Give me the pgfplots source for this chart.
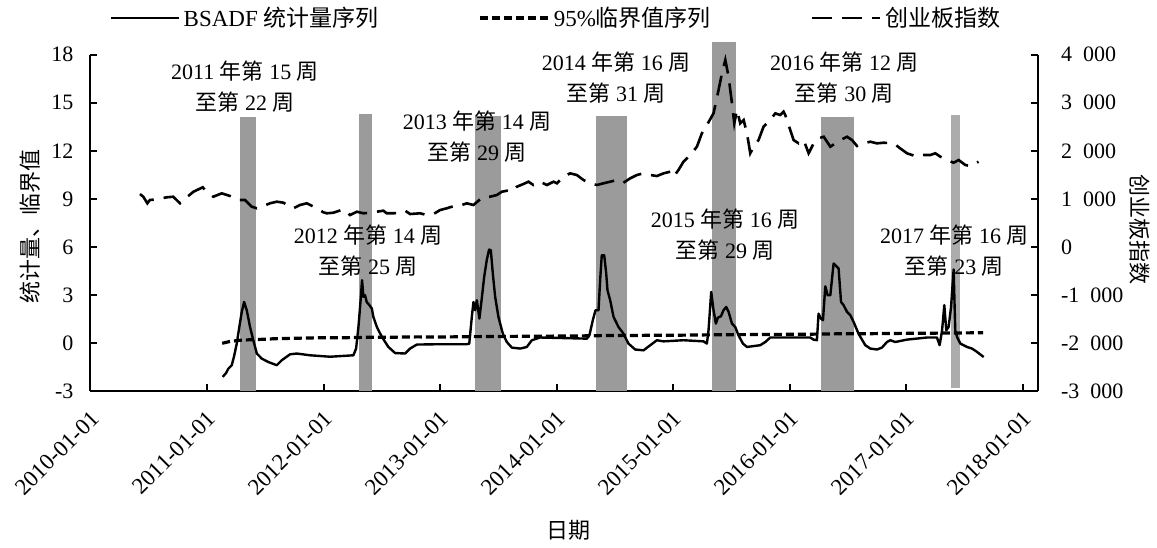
\documentclass[border=0pt]{standalone}
\usepackage{fontspec}
\setmainfont{Liberation Serif}
\newfontfamily\cjk{Noto Sans CJK SC}
\usepackage{pgfplots}
\pgfplotsset{compat=1.18}
\newcommand\zh[1]{{\cjk #1}}
\definecolor{barfill}{RGB}{155,155,155}
\definecolor{barlight}{RGB}{172,172,172}

% time axis: years since 2010-01-01
\pgfplotstableread{
t      bsadf
1.134  -2.12
1.163  -1.88
1.183  -1.60
1.212  -1.39
1.232  -0.83
1.255  -0.04
1.277   1.00
1.298   1.94
1.318   2.56
1.341   2.04
1.369   1.00
1.397   0.17
1.427  -0.66
1.470  -0.98
1.526  -1.19
1.598  -1.39
1.641  -1.08
1.712  -0.71
1.770  -0.66
1.884  -0.77
2.056  -0.86
2.256  -0.77
2.279  -0.35
2.299   1.00
2.320   2.88
2.330   3.92
2.342   2.88
2.356   2.98
2.370   2.56
2.393   2.36
2.414   2.15
2.427   1.63
2.457   1.00
2.500   0.38
2.556  -0.25
2.614  -0.63
2.700  -0.66
2.742  -0.35
2.800  -0.10
2.972  -0.08
3.229  -0.08
3.250  -0.04
3.272   1.63
3.286   2.56
3.300   2.04
3.315   2.67
3.337   1.52
3.359   2.88
3.378   4.13
3.400   5.17
3.420   5.83
3.435   5.79
3.452   4.34
3.472   2.88
3.500   1.63
3.538   0.58
3.572   0.06
3.615  -0.29
3.687  -0.35
3.744  -0.25
3.787   0.17
3.858   0.34
4.259   0.27
4.281   0.48
4.310   1.42
4.333   2.04
4.359   2.04
4.373   3.92
4.387   5.48
4.408   5.48
4.425   4.34
4.436   3.29
4.459   2.67
4.488   1.63
4.530   1.00
4.573   0.58
4.616  -0.04
4.674  -0.41
4.745  -0.46
4.803  -0.14
4.860   0.17
4.917   0.10
5.088   0.17
5.260   0.10
5.289  -0.04
5.303   0.79
5.326   3.19
5.346   2.04
5.366   1.21
5.383   1.58
5.410   1.67
5.431   2.04
5.455   2.25
5.475   1.94
5.504   1.21
5.532   1.00
5.560   0.48
5.598  -0.04
5.633  -0.25
5.747  -0.14
5.790   0.06
5.833   0.34
6.176   0.34
6.204   0.21
6.233   0.17
6.247   1.83
6.268   1.52
6.285   1.42
6.305   3.54
6.325   2.98
6.348   2.98
6.376   4.96
6.405   4.75
6.419   4.65
6.440   2.56
6.462   2.36
6.491   1.94
6.520   1.73
6.548   1.31
6.590   0.58
6.648  -0.14
6.691  -0.35
6.748  -0.41
6.791  -0.29
6.834   0.06
6.863   0.17
6.906   0.06
7.006   0.21
7.178   0.34
7.263   0.34
7.286  -0.14
7.307   0.79
7.326   2.36
7.343   0.79
7.363   1.00
7.384   2.25
7.406   4.59
7.420   0.79
7.435   0.38
7.464  -0.04
7.521  -0.25
7.564  -0.35
7.607  -0.56
7.664  -0.88
}\bsadf

\pgfplotstableread{
t     crit
1.13  -0.02
1.20   0.10
1.30   0.18
1.45   0.22
1.60   0.27
1.80   0.30
2.00   0.33
2.20   0.33
2.40   0.36
2.60   0.36
2.80   0.38
3.00   0.37
3.20   0.39
3.40   0.40
3.60   0.41
3.80   0.42
4.00   0.43
4.20   0.44
4.40   0.46
4.60   0.46
4.80   0.48
5.00   0.48
5.20   0.50
5.40   0.51
5.60   0.52
5.80   0.53
6.00   0.54
6.20   0.55
6.40   0.57
6.60   0.57
6.80   0.59
7.00   0.60
7.20   0.61
7.40   0.62
7.66   0.64
}\crit

\pgfplotstableread{
t      idx
0.425  1100
0.453  1044
0.488   907
0.510   976
0.568   990
0.654  1032
0.710  1044
0.768   907
0.826  1032
0.883  1148
0.963  1240
0.997  1148
1.054  1044
1.126  1115
1.197  1059
1.269   976
1.326   976
1.384   836
1.427   803
1.483   851
1.541   907
1.598   941
1.655   920
1.741   803
1.797   872
1.856   907
1.942   803
1.998   720
2.027   699
2.084   711
2.170   782
2.227   663
2.285   732
2.342   699
2.400   711
2.456   732
2.513   753
2.542   699
2.600   699
2.657   711
2.700   753
2.742   684
2.828   699
2.886   663
2.943   684
3.000   767
3.057   803
3.100   836
3.143   872
3.186   872
3.229   907
3.286   872
3.343   990
3.386  1044
3.429  1044
3.487  1080
3.530  1148
3.572  1169
3.615  1148
3.658  1252
3.715  1309
3.758  1357
3.800  1288
3.857  1357
3.916  1288
3.973  1357
4.002  1323
4.058  1461
4.116  1531
4.173  1496
4.230  1392
4.288  1323
4.345  1288
4.402  1323
4.459  1357
4.517  1392
4.573  1336
4.631  1427
4.688  1496
4.745  1531
4.803  1496
4.860  1475
4.917  1531
4.974  1565
5.003  1461
5.045  1600
5.088  1773
5.146  1912
5.203  2085
5.246  2364
5.289  2537
5.346  2780
5.389  3265
5.418  3613
5.447  3890
5.475  3542
5.504  2988
5.524  2572
5.547  2849
5.575  2572
5.604  2641
5.633  2364
5.661  1948
5.690  2085
5.732  2224
5.775  2501
5.832  2641
5.876  2780
5.918  2745
5.947  2814
5.961  2745
6.004  2432
6.033  2224
6.076  2155
6.119  2224
6.162  1948
6.205  2155
6.248  2260
6.291  2293
6.348  2085
6.391  2155
6.434  2224
6.491  2293
6.534  2224
6.577  2100
6.634  2155
6.691  2189
6.748  2155
6.805  2168
6.891  2155
6.948  2050
7.006  1948
7.091  1877
7.148  1912
7.206  1912
7.249  1948
7.292  1877
7.349  1808
7.406  1752
7.449  1808
7.506  1704
7.549  1683
7.592  1739
7.620  1773
}\chinext

\pgfplotsset{
  common/.style={
    at={(0pt,0pt)}, anchor=south west,
    scale only axis, width=473.75pt, height=168.15pt,
    xmin=0, xmax=8.13,
    font=\fontsize{11}{13}\selectfont,
    axis line style={line width=1pt, -},
    tick align=inside, major tick length=3.5pt,
    tick style={line width=1pt, black},
    no markers,
    legend image code/.code={\draw[##1] (0pt,0pt) -- (34pt,0pt);},
  },
  bsadfline/.style={black, line width=1.2pt, solid, line join=round},
  critline/.style={black, line width=1.6pt, dash pattern=on 4pt off 2pt},
  idxline/.style={black, line width=1.3pt, dash pattern=on 10pt off 5pt},
}

\begin{document}
\begin{tikzpicture}
\begin{axis}[common,
  ymin=-3, ymax=18,
  axis x line*=bottom, axis y line*=left,
  xtick={0,...,8},
  xticklabels={2010-01-01,2011-01-01,2012-01-01,2013-01-01,2014-01-01,2015-01-01,2016-01-01,2017-01-01,2018-01-01},
  x tick label style={yshift=-9pt, xshift=-0.5pt, rotate=45, anchor=north east, inner sep=0pt,
    font=\fontsize{11.5}{13}\selectfont},
  ytick={-3,0,3,6,9,12,15,18},
  yticklabels={-3,0,3,6,9,12,15,18},
  y tick label style={xshift=-5pt},
  clip=false,
  xlabel={\zh{日期}},
  x label style={at={(axis description cs:0.505,0)}, yshift=-69.5pt, anchor=center},
  ylabel={\zh{统计量、临界值}},
  y label style={at={(axis description cs:-0.064,0.49)}, anchor=center},
]
% bubble periods
\addplot[draw=none, fill=barfill] coordinates {(1.283,-3) (1.283,14.13) (1.418,14.13) (1.418,-3)};
\addplot[draw=none, fill=barfill] coordinates {(2.305,-3) (2.305,14.30) (2.414,14.30) (2.414,-3)};
\addplot[draw=none, fill=barfill] coordinates {(3.300,-3) (3.300,14.20) (3.518,14.20) (3.518,-3)};
\addplot[draw=none, fill=barfill] coordinates {(4.339,-3) (4.339,14.17) (4.602,14.17) (4.602,-3)};
\addplot[draw=none, fill=barfill] coordinates {(5.332,-3) (5.332,18.80) (5.535,18.80) (5.535,-3)};
\addplot[draw=none, fill=barfill] coordinates {(6.270,-3) (6.270,14.10) (6.548,14.10) (6.548,-3)};
\addplot[draw=none, fill=barlight] coordinates {(7.386,-2.79) (7.386,14.23) (7.464,14.23) (7.464,-2.79)};

\addplot[critline] table[x=t, y=crit] {\crit};
\addplot[bsadfline] table[x=t, y=bsadf] {\bsadf};

\begin{scope}[every node/.style={align=center, font=\fontsize{11}{15.5}\selectfont}]
\node at (axis cs:1.326,15.98) {2011 \zh{年第} 15 \zh{周}\\\zh{至第} 22 \zh{周}};
\node at (axis cs:2.382,5.76)  {2012 \zh{年第} 14 \zh{周}\\\zh{至第} 25 \zh{周}};
\node at (axis cs:3.318,12.86) {2013 \zh{年第} 14 \zh{周}\\\zh{至第} 29 \zh{周}};
\node at (axis cs:4.510,16.58) {2014 \zh{年第} 16 \zh{周}\\\zh{至第} 31 \zh{周}};
\node at (axis cs:5.446,6.79)  {2015 \zh{年第} 16 \zh{周}\\\zh{至第} 29 \zh{周}};
\node at (axis cs:6.468,16.58) {2016 \zh{年第} 12 \zh{周}\\\zh{至第} 30 \zh{周}};
\node at (axis cs:7.412,5.76)  {2017 \zh{年第} 16 \zh{周}\\\zh{至第} 23 \zh{周}};
\end{scope}
\end{axis}

\begin{axis}[common,
  ymin=-3000, ymax=4000,
  axis x line=none, axis y line*=right,
  ytick={-3000,-2000,-1000,0,1000,2000,3000,4000},
  yticklabels={-3\enspace000,-2\enspace000,-1\enspace000,0,1\enspace000,2\enspace000,3\enspace000,4\enspace000},
  y tick label style={anchor=west, xshift=8pt},
  ylabel={\zh{创业板指数}},
  y label style={at={(axis description cs:1.1077,0.479)}, rotate=180, anchor=center},
  legend columns=3,
  legend style={draw=none, fill=none, at={(axis description cs:0.4923,1.109)}, anchor=center,
    font=\fontsize{11.5}{13}\selectfont,
    /tikz/every even column/.append style={column sep=48pt}},
]
\addlegendimage{bsadfline}
\addlegendentry{BSADF \zh{统计量序列}}
\addlegendimage{critline}
\addlegendentry{95\%\zh{临界值序列}}
\addplot[idxline] table[x=t, y=idx] {\chinext};
\addlegendentry{\zh{创业板指数}}
\end{axis}

\pgfresetboundingbox
\path[use as bounding box] (-45.25pt,-78pt) rectangle (533.25pt,195.5pt);
\end{tikzpicture}
\end{document}
